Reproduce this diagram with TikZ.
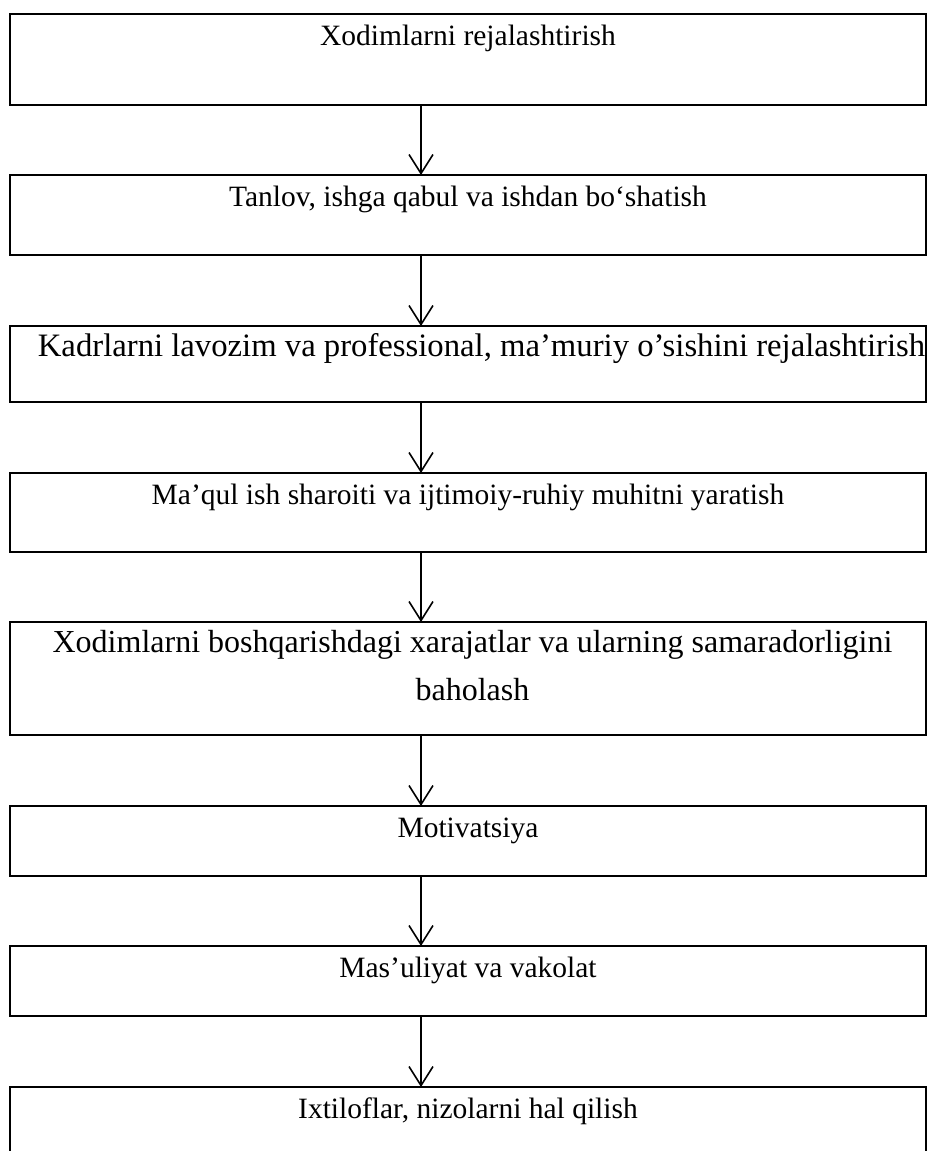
\documentclass[tikz,border=0pt]{standalone}
\usepackage{fontspec}
\setmainfont{Liberation Serif}
\usetikzlibrary{arrows.meta,calc}
\begin{document}
\begin{tikzpicture}[x=1pt,y=-1pt,
  box/.style={draw, line width=2.6pt, minimum width=916pt, inner sep=0pt, outer sep=0pt},
  lbl/.style={anchor=base, align=center, inner sep=0pt, font=\fontsize{29.5}{47}\selectfont},
  big/.style={font=\fontsize{32.5}{48}\selectfont},
  arr/.style={-{Straight Barb[length=19pt,width=24pt]}, line width=1.6pt}]
\path[use as bounding box, clip] (0,0) rectangle (927,1151);
\node[box, minimum height=91pt] (b1) at (468,59.5) {};
\node[box, minimum height=80pt] (b2) at (468,215) {};
\node[box, minimum height=76pt] (b3) at (468,364) {};
\node[box, minimum height=79pt] (b4) at (468,512.5) {};
\node[box, minimum height=113pt] (b5) at (468,678.5) {};
\node[box, minimum height=70pt] (b6) at (468,841) {};
\node[box, minimum height=70pt] (b7) at (468,981) {};
\node[box, minimum height=113pt] (b8) at (468,1143.5) {};
\node[lbl] (t1) at ($(b1.north)+(0,31)$) {Xodimlarni rejalashtirish};
\node[lbl] (t2) at ($(b2.north)+(0,31)$) {Tanlov, ishga qabul va ishdan bo‘shatish};
\node[lbl, font=\fontsize{32.7}{48}\selectfont] (t3) at ($(b3.north)+(13.5,30)$) {Kadrlarni lavozim va professional, ma’muriy o’sishini rejalashtirish};
\node[lbl] (t4) at ($(b4.north)+(0,31)$) {Ma’qul ish sharoiti va ijtimoiy-ruhiy muhitni yaratish};
\node[lbl, font=\fontsize{32}{48}\selectfont] (t5) at ($(b5.north)+(4.5,78)$) {Xodimlarni boshqarishdagi xarajatlar va ularning samaradorligini\\baholash};
\node[lbl] (t6) at ($(b6.north)+(0,31)$) {Motivatsiya};
\node[lbl] (t7) at ($(b7.north)+(0,31)$) {Mas’uliyat va vakolat};
\node[lbl] (t8) at ($(b8.north)+(0,31)$) {Ixtiloflar, nizolarni hal qilish};
\coordinate (ax) at (421,0);
\foreach \a/\b in {b1/b2,b2/b3,b3/b4,b4/b5,b5/b6,b6/b7,b7/b8}
  \draw[arr] (\a.south -| ax) -- (\b.north -| ax);
\end{tikzpicture}
\end{document}
